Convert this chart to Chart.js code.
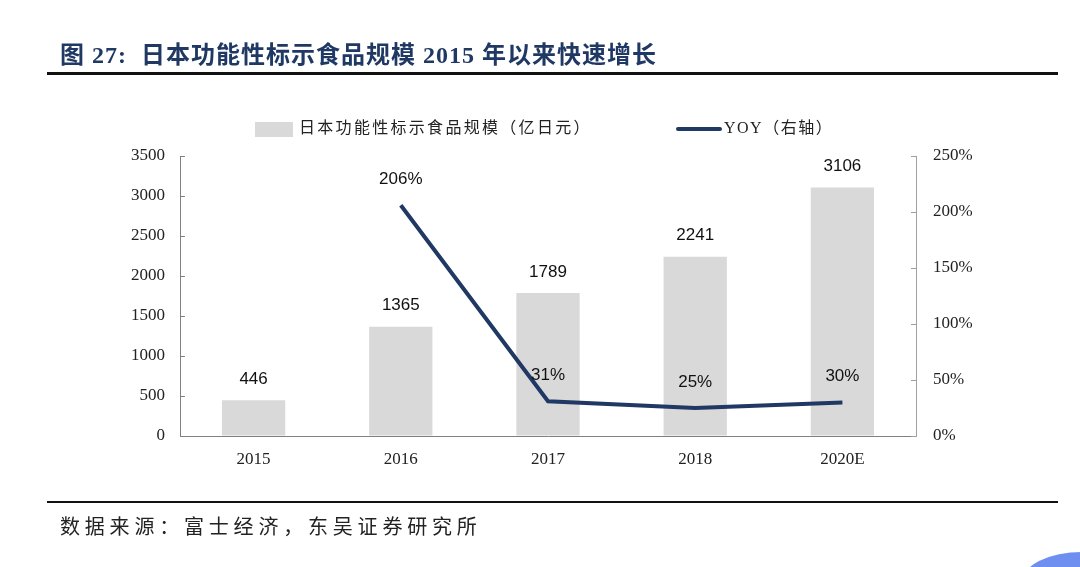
<!DOCTYPE html>
<html>
<head>
<meta charset="utf-8">
<script src="https://cdn.jsdelivr.net/npm/chart.js@4"></script>
<style>
  body { margin: 0; background: #fff; }
  #wrap { position: relative; width: 1080px; height: 567px; overflow: hidden; background: #fff; }
  #chart { position: absolute; left: 0; top: 0; }
  .title { position: absolute; left: 60px; top: 35px; font: bold 24px "Liberation Serif", "Noto Sans CJK SC"; color: #1f3864; white-space: nowrap; letter-spacing: 1px; }
  .rule { position: absolute; left: 47px; width: 1011px; background: #111; }
  .source { position: absolute; left: 60px; top: 511px; font: 20px "Liberation Serif", "Noto Sans CJK SC"; color: #222; letter-spacing: 4.8px; white-space: nowrap; }
  .legend { position: absolute; top: 114px; font: 16px "Liberation Serif", "Noto Sans CJK SC"; color: #222; white-space: nowrap; letter-spacing: 2.3px; }
  .legend span.box { display: inline-block; vertical-align: middle; }
  .blob { position: absolute; left: 1022px; top: 552px; width: 120px; height: 60px; border-radius: 50%; background: #6f8ff0; }
</style>
</head>
<body>
<div id="wrap">
  <canvas id="chart" width="1080" height="567"></canvas>
  <div class="title">图 27:&nbsp; 日本功能性标示食品规模 2015 年以来快速增长</div>
  <div class="rule" style="top:72px;height:3px"></div>
  <div class="legend" style="left:255px"><span class="box" style="width:38px;height:15px;background:#d9d9d9;margin-right:6px"></span>日本功能性标示食品规模（亿日元）</div>
  <div class="legend" style="left:676px;letter-spacing:1.5px"><span class="box" style="width:46px;height:4px;background:#1f3864;border-radius:2px;margin-right:2px"></span>YOY（右轴）</div>
  <div class="rule" style="top:501px;height:2px"></div>
  <div class="source">数据来源：富士经济，东吴证券研究所</div>
  <div class="blob"></div>
</div>
<script>
// 数据
const years = ['2015', '2016', '2017', '2018', '2020E'];
const marketSize = [446, 1365, 1789, 2241, 3106];
const yoy = [null, 2.06, 0.31, 0.25, 0.30];
const leftTicks = [0, 500, 1000, 1500, 2000, 2500, 3000, 3500];
const rightTicks = [0, 0.5, 1.0, 1.5, 2.0, 2.5];

const tickFont = { family: '"Liberation Serif", serif', size: 17 };

// 标签: 柱子和折线上方的数值
const valueLabels = {
  id: 'valueLabels',
  afterDatasetsDraw(chart) {
    const ctx = chart.ctx;
    ctx.save();
    ctx.font = '17px "Liberation Sans", Arial, sans-serif';
    ctx.fillStyle = '#111';
    ctx.textAlign = 'center';
    ctx.textBaseline = 'middle';
    chart.getDatasetMeta(0).data.forEach((bar, i) => {
      ctx.fillText(String(marketSize[i]), bar.x, bar.y - 21);
    });
    chart.getDatasetMeta(1).data.forEach((pt, i) => {
      if (yoy[i] === null) return;
      ctx.fillText(Math.round(yoy[i] * 100) + '%', pt.x, pt.y - 26);
    });
    ctx.restore();
  }
};

// 刻度线朝内
const innerTicks = {
  id: 'innerTicks',
  afterDraw(chart) {
    const ctx = chart.ctx;
    ctx.save();
    ctx.lineWidth = 1;
    const y = chart.scales.y;
    ctx.strokeStyle = '#808080';
    y.ticks.forEach(t => {
      const py = Math.round(y.getPixelForValue(t.value)) + 0.5;
      ctx.beginPath(); ctx.moveTo(y.right, py); ctx.lineTo(y.right + 5, py); ctx.stroke();
    });
    const y1 = chart.scales.y1;
    ctx.strokeStyle = '#a0a0a0';
    y1.ticks.forEach(t => {
      const py = Math.round(y1.getPixelForValue(t.value)) + 0.5;
      ctx.beginPath(); ctx.moveTo(y1.left, py); ctx.lineTo(y1.left - 5, py); ctx.stroke();
    });
    ctx.restore();
  }
};

new Chart(document.getElementById('chart'), {
  data: {
    labels: years,
    datasets: [
      {
        type: 'bar',
        label: '日本功能性标示食品规模（亿日元）',
        data: marketSize,
        backgroundColor: '#d9d9d9',
        categoryPercentage: 1,
        barPercentage: 0.43,
        yAxisID: 'y',
        order: 2
      },
      {
        type: 'line',
        label: 'YOY（右轴）',
        data: yoy,
        borderColor: '#1f3864',
        borderWidth: 4,
        pointRadius: 0,
        tension: 0,
        yAxisID: 'y1',
        order: 1
      }
    ]
  },
  options: {
    responsive: false,
    animation: false,
    layout: { padding: { top: 156 } },
    plugins: { legend: { display: false }, tooltip: { enabled: false } },
    scales: {
      x: {
        grid: { display: false, drawTicks: false },
        border: { color: '#808080' },
        ticks: { font: tickFont, color: '#222', padding: 13 },
        afterFit(s) { s.height = 131; }
      },
      y: {
        position: 'left',
        min: 0, max: 3500,
        afterBuildTicks(s) { s.ticks = leftTicks.map(v => ({ value: v })); },
        grid: { drawOnChartArea: false, drawTicks: false },
        border: { color: '#808080' },
        ticks: { font: tickFont, color: '#222', padding: 15, callback: v => String(v) },
        afterFit(s) { s.width = 180; }
      },
      y1: {
        position: 'right',
        min: 0, max: 2.5,
        afterBuildTicks(s) { s.ticks = rightTicks.map(v => ({ value: v })); },
        grid: { drawOnChartArea: false, drawTicks: false },
        border: { color: '#a0a0a0' },
        ticks: { font: tickFont, color: '#222', padding: 17, callback: v => Math.round(v * 100) + '%' },
        afterFit(s) { s.width = 164; }
      }
    }
  },
  plugins: [valueLabels, innerTicks]
});
</script>
</body>
</html>
